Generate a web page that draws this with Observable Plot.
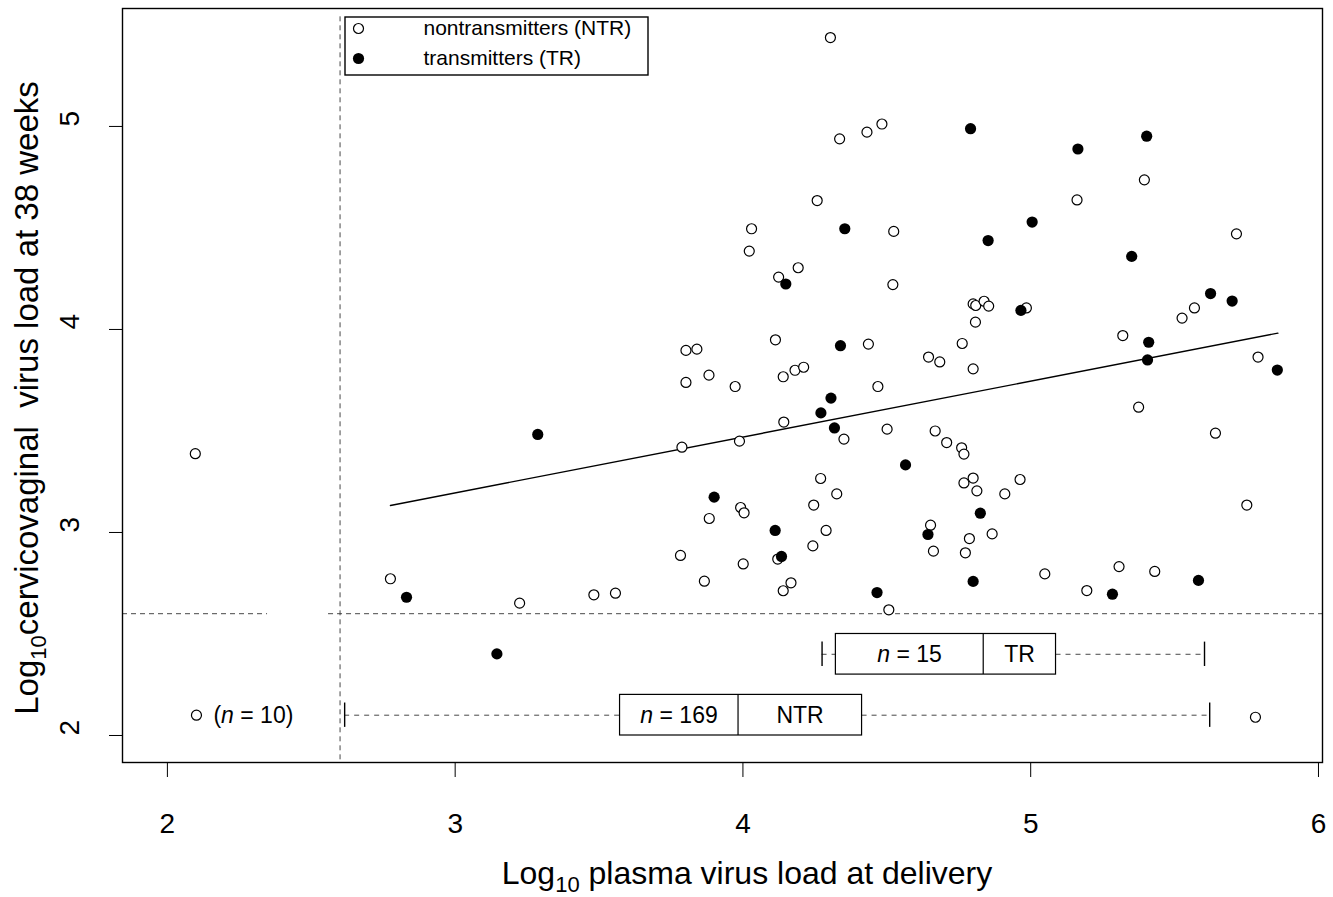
<!DOCTYPE html>
<html>
<head>
<meta charset="utf-8">
<script src="https://cdn.jsdelivr.net/npm/d3@7"></script>
<script src="https://cdn.jsdelivr.net/npm/@observablehq/plot@0.6"></script>
<style>
  html, body { margin: 0; padding: 0; background: white; }
  #chart svg { display: block; }
</style>
</head>
<body>
<div id="chart"></div>
<script>
// ---- Data ----
const ntrX = [4.304,4.336,4.431,4.483,4.258,4.030,4.524,4.022,4.192,4.124,4.521,4.800,4.809,4.838,4.854,4.808,5.395,5.161,5.715,4.113,3.802,3.840,3.802,3.882,3.973,4.140,4.181,4.211,4.436,4.469,4.142,4.351,3.788,3.988,4.501,4.645,4.684,4.762,4.800,4.668,4.708,4.760,4.768,4.270,4.326,3.992,4.004,3.883,4.246,4.800,4.768,4.813,4.910,4.866,4.652,4.787,4.662,4.773,4.289,4.243,4.121,3.783,4.001,3.866,4.167,4.140,3.482,3.557,4.507,4.985,5.526,5.569,5.320,5.790,5.375,5.642,4.963,5.751,5.049,5.307,5.431,5.195,2.097,2.775,3.224,2.101,5.781];
const ntrY = [5.438,4.939,4.972,5.012,4.635,4.496,4.483,4.386,4.304,4.258,4.221,4.126,4.118,4.139,4.115,4.036,4.737,4.638,4.471,3.949,3.897,3.903,3.739,3.775,3.719,3.767,3.799,3.814,3.928,3.719,3.544,3.460,3.420,3.450,3.509,3.864,3.840,3.931,3.806,3.500,3.443,3.417,3.386,3.266,3.190,3.123,3.097,3.069,3.135,3.268,3.244,3.205,3.190,2.993,3.036,2.970,2.908,2.900,3.010,2.934,2.869,2.887,2.845,2.760,2.752,2.713,2.693,2.701,2.619,4.106,4.056,4.106,3.970,3.864,3.617,3.489,3.261,3.135,2.796,2.832,2.808,2.714,3.388,2.772,2.652,2.100,2.090];
const trX = [4.791,4.354,4.852,4.149,5.164,5.403,5.005,5.351,5.625,5.700,4.339,4.306,4.271,4.318,4.565,3.900,4.825,4.643,4.112,4.134,4.466,4.800,4.966,5.410,5.406,5.857,5.284,5.583,3.287,2.831,3.145];
const trY = [4.989,4.496,4.438,4.224,4.889,4.952,4.529,4.360,4.177,4.140,3.920,3.662,3.589,3.515,3.333,3.174,3.095,2.990,3.010,2.882,2.704,2.759,4.094,3.937,3.850,3.800,2.696,2.764,3.483,2.681,2.402];

// regression line end points
const fitX = [2.775, 5.859];
const fitY = [3.133, 3.982];

// detection limit
const limit = 2.6;

// box plots of plasma load by group
const boxGroups = ["TR", "NTR"];
const boxN = [15, 169];
const boxLow = [4.275, 2.616];
const boxQ1 = [4.323, 3.573];
const boxMed = [4.835, 3.983];
const boxQ3 = [5.088, 4.414];
const boxHigh = [5.604, 5.622];
const boxRow = [2.4, 2.1];

const belowLabel = "(n = 10)";
const belowLabelX = 2.16;
const belowLabelY = 2.1;

const xTicks = [2, 3, 4, 5, 6];
const yTicks = [2, 3, 4, 5];
const legendLabels = ["nontransmitters (NTR)", "transmitters (TR)"];

// ---- Build tables ----
const ntr = ntrX.map((x, i) => ({x, y: ntrY[i]}));
const tr = trX.map((x, i) => ({x, y: trY[i]}));
const fit = fitX.map((x, i) => ({x, y: fitY[i]}));
const boxes = boxGroups.map((g, i) => ({
  g, n: boxN[i], lo: boxLow[i], q1: boxQ1[i], med: boxMed[i], q3: boxQ3[i], hi: boxHigh[i], row: boxRow[i]
}));

const xDomain = [1.844, 6.014];
const yDomain = [1.867, 5.581];
const font = "'Liberation Sans', Arial, Helvetica, sans-serif";

const plot = Plot.plot({
  width: 1333,
  height: 897,
  marginLeft: 122,
  marginRight: 11,
  marginTop: 8,
  marginBottom: 135,
  x: {domain: xDomain},
  y: {domain: yDomain},
  style: {fontFamily: font, background: "white", color: "black"},
  marks: [
    // reference lines at detection limit
    Plot.ruleX([limit], {y1: 5.54, y2: yDomain[0], stroke: "#333", strokeWidth: 0.9, strokeDasharray: "5,4"}),
    Plot.ruleY([limit], {x1: xDomain[0], x2: 2.348, stroke: "#333", strokeWidth: 0.9, strokeDasharray: "5,4"}),
    Plot.ruleY([limit], {x1: 2.56, x2: xDomain[1], stroke: "#333", strokeWidth: 0.9, strokeDasharray: "5,4"}),
    // regression line
    Plot.line(fit, {x: "x", y: "y", stroke: "black", strokeWidth: 1.4}),
    // points
    Plot.dot(ntr, {x: "x", y: "y", r: 5, stroke: "black", fill: "white", strokeWidth: 1.2}),
    Plot.dot(tr, {x: "x", y: "y", r: 5.6, fill: "black", stroke: "none"}),
    // box plots: whiskers
    Plot.ruleY(boxes, {y: "row", x1: "lo", x2: "q1", stroke: "#333", strokeWidth: 0.9, strokeDasharray: "5,5"}),
    Plot.ruleY(boxes, {y: "row", x1: "q3", x2: "hi", stroke: "#333", strokeWidth: 0.9, strokeDasharray: "5,5"}),
    Plot.ruleX(boxes, {x: "lo", y1: d => d.row - 0.06, y2: d => d.row + 0.06, stroke: "black", strokeWidth: 1.4}),
    Plot.ruleX(boxes, {x: "hi", y1: d => d.row - 0.06, y2: d => d.row + 0.06, stroke: "black", strokeWidth: 1.4}),
    Plot.rect(boxes, {x1: "q1", x2: "q3", y1: d => d.row - 0.1, y2: d => d.row + 0.1, fill: "white", stroke: "black", strokeWidth: 1.2}),
    Plot.ruleX(boxes, {x: "med", y1: d => d.row - 0.1, y2: d => d.row + 0.1, stroke: "black", strokeWidth: 1.2}),
    Plot.text(boxes, {x: d => (d.q1 + d.med) / 2, y: "row", text: d => `n = ${d.n}`, fontSize: 23, fill: "black"}),
    Plot.text(boxes, {x: d => (d.med + d.q3) / 2, y: "row", text: "g", fontSize: 23, fill: "black"}),
    Plot.text([belowLabel], {x: belowLabelX, y: belowLabelY, text: d => d, textAnchor: "start", fontSize: 23, fill: "black"}),
    // legend
    Plot.rect([0], {insetLeft: 223, insetTop: 9, insetRight: 674, insetBottom: 687, fill: "white", stroke: "black", strokeWidth: 1.4}),
    Plot.dot([0], {frameAnchor: "top-left", dx: 236, dy: 20, r: 5, stroke: "black", fill: "white", strokeWidth: 1.2}),
    Plot.dot([0], {frameAnchor: "top-left", dx: 236, dy: 50, r: 5.6, fill: "black"}),
    Plot.text([legendLabels[0]], {frameAnchor: "top-left", dx: 301, dy: 20, lineAnchor: "middle", text: d => d, textAnchor: "start", fontSize: 21, fill: "black"}),
    Plot.text([legendLabels[1]], {frameAnchor: "top-left", dx: 301, dy: 50, lineAnchor: "middle", text: d => d, textAnchor: "start", fontSize: 21, fill: "black"}),
    // axes
    Plot.frame({stroke: "black", strokeWidth: 1.4}),
    Plot.axisX({ticks: xTicks, tickSize: 15, tickPadding: 36, fontSize: 28, label: null, tickFormat: d => String(d)}),
    Plot.axisY({ticks: yTicks, tickSize: 13, label: null, tickFormat: () => ""}),
    Plot.text(yTicks, {y: d => d, frameAnchor: "left", dx: -52, rotate: -90, text: d => String(d), fontSize: 28, fill: "black"})
  ]
});

document.getElementById("chart").appendChild(plot);

// italic n in the count labels
const svg = d3.select(plot.tagName.toLowerCase() === "svg" ? plot : plot.querySelector("svg"));
svg.selectAll("text").each(function() {
  const t = this.textContent;
  const m = t.match(/^(\(?)n( = .*)$/);
  if (m && !this.querySelector("tspan")) {
    const el = d3.select(this);
    el.text(null);
    if (m[1]) el.append("tspan").text(m[1]);
    el.append("tspan").attr("font-style", "italic").text("n");
    el.append("tspan").text(m[2]);
  }
});

// axis titles with subscripts
const xt = svg.append("text")
  .attr("x", 747).attr("y", 884)
  .attr("text-anchor", "middle")
  .attr("font-family", font).attr("font-size", 32).attr("fill", "black");
xt.append("tspan").text("Log");
xt.append("tspan").attr("font-size", 22).attr("dy", 8).text("10");
xt.append("tspan").attr("dy", -8).text(" plasma virus load at delivery");

const yt = svg.append("text")
  .attr("transform", "translate(38,398) rotate(-90)")
  .attr("text-anchor", "middle")
  .attr("font-family", font).attr("font-size", 33).attr("fill", "black");
yt.append("tspan").text("Log");
yt.append("tspan").attr("font-size", 22).attr("dy", 8).text("10");
yt.append("tspan").attr("dy", -8).text("cervicovaginal  virus load at 38 weeks");
</script>
</body>
</html>
